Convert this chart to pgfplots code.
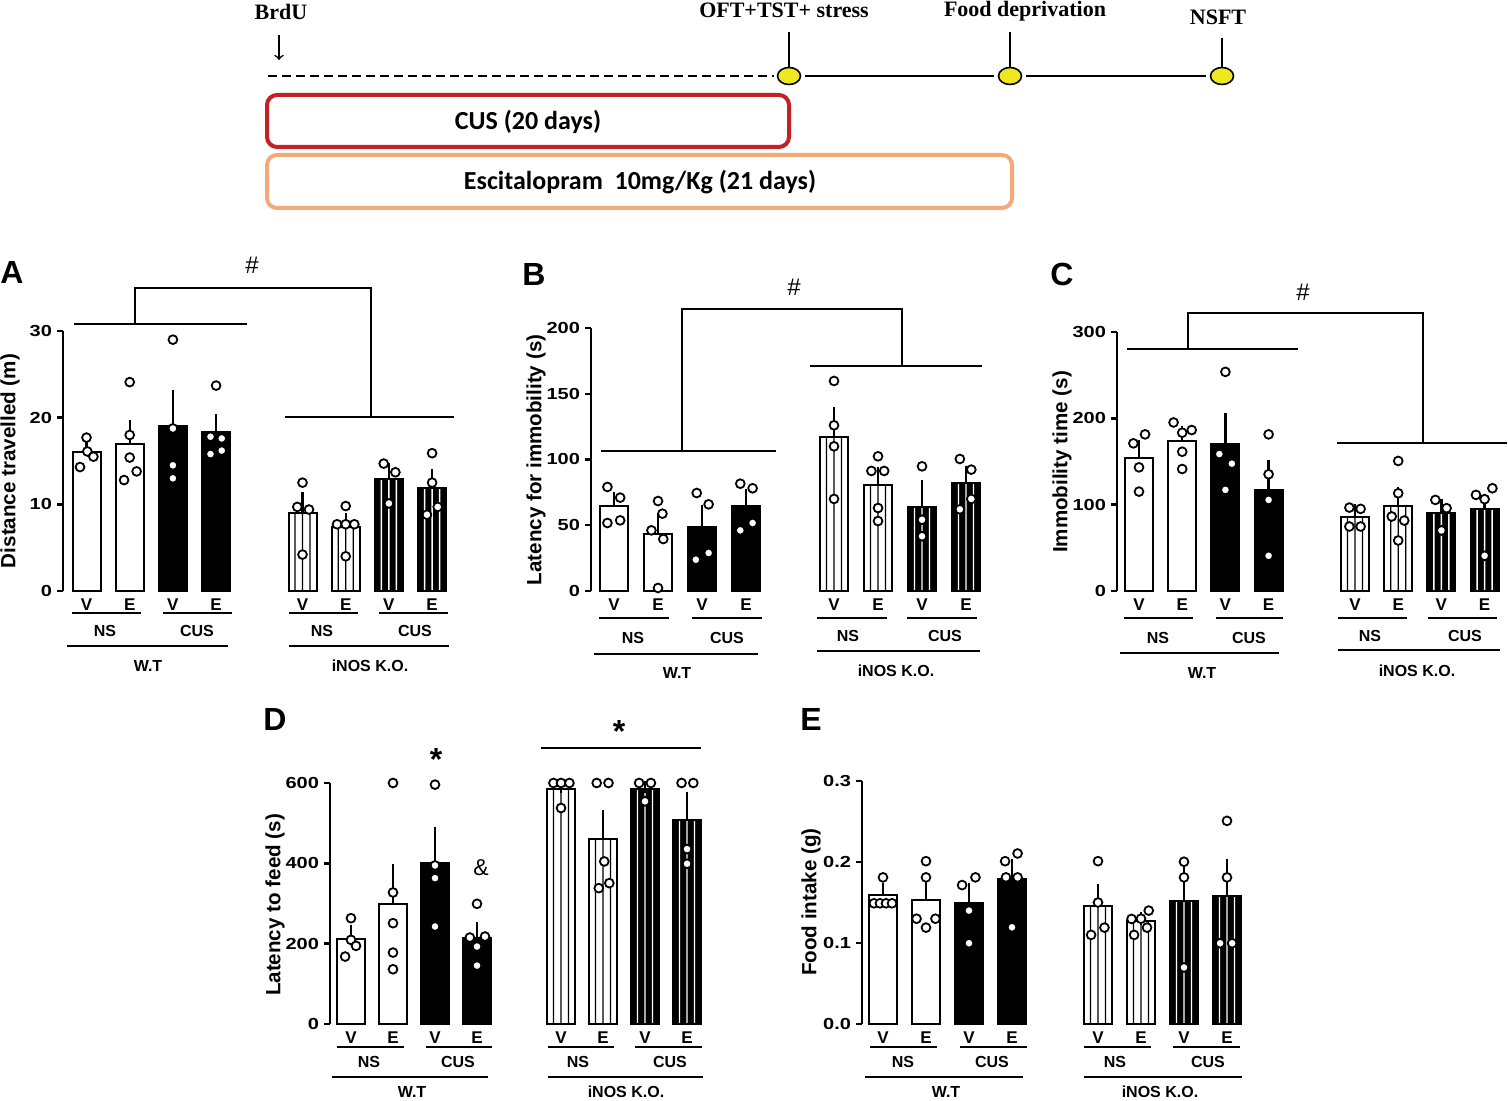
\documentclass[border=0pt]{standalone}
\usepackage{fontspec}
\setmainfont{Liberation Sans}
\newfontfamily\numfont{Liberation Sans}[FakeStretch=1.25]
\newfontfamily\timesfont{Liberation Serif}
\newfontfamily\calfont{Carlito}
\usepackage{pgfplots}
\pgfplotsset{compat=1.18}

\definecolor{cusred}{RGB}{196,32,38}
\definecolor{escorange}{RGB}{244,170,120}
\definecolor{tyellow}{RGB}{238,232,34}

\newcommand\fs[1]{\fontsize{#1}{#1}\selectfont}

\pgfplotsset{
  panel/.style={
    axis x line*=bottom, axis y line*=left,
    x axis line style={draw=none},
    y axis line style={line width=1.2pt},
    xtick style={draw=none},
    ytick style={line width=1.2pt, black},
    tick align=outside, major tick length=3pt,
    xtick={0,1,2,3,5,6,7,8},
    xticklabels={V,E,V,E,V,E,V,E},
    xticklabel style={font=\bfseries\fs{8.5}, yshift=2.5pt},
    yticklabel style={font=\numfont\bfseries\fs{8}, xshift=1pt},
    /pgf/number format/assume math mode=true,
    ymin=0, xmax=8.6, clip=false, anchor=south west,
  },
  wbar/.style={ybar, bar width=14pt, bar shift=0pt, fill=white, draw=black, line width=1pt},
  bbar/.style={ybar, bar width=14pt, bar shift=0pt, fill=black, draw=black, line width=1pt},
  obar/.style={ybar, bar width=14pt, bar shift=0pt, fill=none, draw=black, line width=1pt},
  stripe/.style={ybar, bar width=0.7pt, bar shift=#1, draw=none},
  sem/.style={only marks, mark=none, mark size=0pt, error bars/.cd, y dir=plus, y explicit, error mark=-,
    error bar style={line width=1.2pt, black},
    error mark options={line width=1.2pt, mark size=3.2pt, black}},
  pts/.style={only marks, mark=*, mark size=2.2pt,
    mark options={fill=white, draw=black, line width=0.9pt}},
}

% WT-NS, WT-CUS, KO-NS, KO-CUS bars
\newcommand\barset[4]{%
  \addplot[wbar] coordinates {#1};
  \addplot[bbar] coordinates {#2};
  \addplot[wbar] coordinates {#3};
  \addplot[bbar] coordinates {#4};
  \addplot[stripe=-3.75pt, fill=black] coordinates {#3};
  \addplot[stripe=0pt, fill=black] coordinates {#3};
  \addplot[stripe=3.75pt, fill=black] coordinates {#3};
  \addplot[stripe=-3.75pt, fill=white] coordinates {#4};
  \addplot[stripe=0pt, fill=white] coordinates {#4};
  \addplot[stripe=3.75pt, fill=white] coordinates {#4};
  \addplot[obar] coordinates {#3};
  \addplot[obar] coordinates {#4};
}

\tikzset{
  bl/.style={line width=1.2pt},
  grp/.style={font=\bfseries\fs{8}, inner sep=0pt},
  ylab/.style={font=\bfseries\fs{10.3}, inner sep=0pt, rotate=90},
  plet/.style={font=\bfseries\fs{16}, inner sep=0pt},
}

\begin{document}
\begin{tikzpicture}
\useasboundingbox (0,0) rectangle (754pt,550.5pt);

% overlay in pixel coordinates (x, -y)
\begin{axis}[hide axis, x=0.5pt, y=0.5pt, xmin=0, xmax=1508, ymin=-1101, ymax=0,
  at={(0pt,0pt)}, anchor=south west, clip=false]
% timeline
\node[font=\timesfont\bfseries\fs{11}, inner sep=0pt] at (281,-12) {BrdU};
\draw[->, line width=0.8pt] (279,-35) -- (279,-60);
\draw[line width=1pt, dash pattern=on 4.5pt off 2.5pt] (268,-76) -- (774,-76);
\draw[line width=1pt] (805,-76) -- (994,-76) (1026,-76) -- (1206,-76);
\draw[line width=1.2pt] (789,-32) -- (789,-68) (1010,-32) -- (1010,-68) (1222,-38) -- (1222,-68);
\node[font=\timesfont\bfseries\fs{11}, inner sep=0pt] at (784,-10) {OFT+TST+ stress};
\node[font=\timesfont\bfseries\fs{11}, inner sep=0pt] at (1025,-11) {Food deprivation};
\node[font=\timesfont\bfseries\fs{11}, inner sep=0pt] at (1218,-17) {NSFT};
\addplot[only marks, mark=*, mark size=4.25pt,
  mark options={fill=tyellow, draw=black, line width=0.8pt, xscale=1.35}]
  coordinates {(789,-76) (1010,-76) (1222,-76)};
\draw[cusred, line width=2pt, rounded corners=5pt] (267,-95) rectangle (789,-147);
\node[font=\calfont\bfseries\fs{13}, inner sep=0pt] at (528,-122) {CUS (20 days)};
\draw[escorange, line width=2pt, rounded corners=5pt] (267,-155) rectangle (1012,-208);
\node[font=\calfont\bfseries\fs{13}, inner sep=0pt] at (640,-182) {Escitalopram\ \ 10mg/Kg (21 days)};

% panel A
\node[plet] at (12,-273) {A};
\node[font=\fs{12}, inner sep=0pt] at (252,-265) {\#};
\draw[bl] (135,-324) -- (135,-288) -- (371,-288) -- (371,-417);
\draw[bl] (74,-324) -- (247,-324) (285,-417) -- (454,-417);
\draw[bl] (72,-613) -- (141,-613) (163,-613) -- (232,-613) (289,-613) -- (358,-613) (379,-613) -- (448,-613);
\node[grp] at (105,-631) {NS}; \node[grp] at (197,-631) {CUS};
\node[grp] at (322,-631) {NS}; \node[grp] at (415,-631) {CUS};
\draw[bl] (67,-646) -- (228,-646) (289,-646) -- (449,-646);
\node[grp] at (148,-666) {W.T}; \node[grp] at (370,-666) {iNOS K.O.};
\node[ylab] at (10,-461) {Distance travelled (m)};

% panel B
\node[plet] at (534,-275) {B};
\node[font=\fs{12}, inner sep=0pt] at (794,-287) {\#};
\draw[bl] (682,-451) -- (682,-309) -- (902,-309) -- (902,-366);
\draw[bl] (601,-451) -- (776,-451) (810,-366) -- (982,-366);
\draw[bl] (599,-618) -- (669,-618) (692,-618) -- (762,-618) (817,-618) -- (887,-618) (907,-618) -- (977,-618);
\node[grp] at (633,-638) {NS}; \node[grp] at (727,-638) {CUS};
\node[grp] at (848,-636) {NS}; \node[grp] at (945,-636) {CUS};
\draw[bl] (594,-654) -- (758,-654) (817,-651) -- (980,-651);
\node[grp] at (677,-673) {W.T}; \node[grp] at (896,-671) {iNOS K.O.};
\node[ylab] at (536,-460) {Latency for immobility (s)};

% panel C
\node[plet] at (1062,-275) {C};
\node[font=\fs{12}, inner sep=0pt] at (1303,-292) {\#};
\draw[bl] (1188,-349) -- (1188,-313) -- (1423,-313) -- (1423,-443);
\draw[bl] (1127,-349) -- (1298,-349) (1337,-443) -- (1507,-443);
\draw[bl] (1124,-618) -- (1193,-618) (1216,-618) -- (1283,-618) (1338,-618) -- (1407,-618) (1428,-618) -- (1497,-618);
\node[grp] at (1158,-638) {NS}; \node[grp] at (1249,-638) {CUS};
\node[grp] at (1370,-636) {NS}; \node[grp] at (1465,-636) {CUS};
\draw[bl] (1120,-653) -- (1279,-653) (1338,-650) -- (1500,-650);
\node[grp] at (1202,-673) {W.T}; \node[grp] at (1417,-671) {iNOS K.O.};
\node[ylab] at (1062,-462) {Immobility time (s)};

% panel D
\node[plet] at (275,-720) {D};
\node[font=\bfseries\fs{16}, inner sep=0pt, anchor=base] at (436,-771) {*};
\node[font=\bfseries\fs{16}, inner sep=0pt, anchor=base] at (619,-743) {*};
\draw[bl] (541,-748) -- (701,-748);
\node[font=\fs{11.5}, inner sep=0pt] at (481,-868) {\&};
\draw[bl] (337,-1047) -- (404,-1047) (426,-1047) -- (492,-1047) (548,-1047) -- (614,-1047) (635,-1047) -- (702,-1047);
\node[grp] at (369,-1062) {NS}; \node[grp] at (458,-1062) {CUS};
\node[grp] at (578,-1062) {NS}; \node[grp] at (670,-1062) {CUS};
\draw[bl] (332,-1077) -- (488,-1077) (548,-1077) -- (703,-1077);
\node[grp] at (412,-1092) {W.T}; \node[grp] at (626,-1092) {iNOS K.O.};
\node[ylab] at (275,-905) {Latency to feed (s)};

% panel E
\node[plet] at (811,-720) {E};
\draw[bl] (870,-1047) -- (937,-1047) (960,-1047) -- (1027,-1047) (1084,-1047) -- (1151,-1047) (1173,-1047) -- (1240,-1047);
\node[grp] at (903,-1062) {NS}; \node[grp] at (992,-1062) {CUS};
\node[grp] at (1115,-1062) {NS}; \node[grp] at (1208,-1062) {CUS};
\draw[bl] (865,-1077) -- (1023,-1077) (1084,-1077) -- (1242,-1077);
\node[grp] at (946,-1092) {W.T}; \node[grp] at (1160,-1092) {iNOS K.O.};
\node[ylab] at (811,-902) {Food intake (g)};
\end{axis}

% A: distance travelled
\begin{axis}[panel, at={(31.5pt,255pt)}, x=21.6pt, y=4.3333pt, xmin=-0.544, ymax=30, ytick={0,10,20,30}]
\barset{(0,16.0) (1,17.0)}{(2,19.0) (3,18.4)}{(5,9.0) (6,7.4)}{(7,12.95) (8,11.9)}
\addplot[sem] coordinates {(0,16.0) +- (0,0.6) (1,17.0) +- (0,2.0) (2,19.0) +- (0,3.45) (3,18.4) +- (0,1.3)
  (5,9.0) +- (0,1.7) (6,7.4) +- (0,0.85) (7,12.95) +- (0,1.1) (8,11.9) +- (0,1.4)};
\addplot[pts] coordinates {
  (0,17.7) (-0.15,14.3) (0.02,16.1) (0.16,15.5)
  (1,24.1) (1,18.0) (1,15.4) (0.87,12.8) (1.16,13.8)
  (2,29.0) (2,18.75) (2,14.5) (2,13.0)
  (3,23.7) (2.87,17.8) (3.13,17.6) (2.87,15.8) (3.13,16.2)
  (5,12.5) (4.88,9.7) (5.15,9.4) (5,4.2)
  (6,9.8) (5.8,7.7) (6,7.7) (6.2,7.7) (6,4.0)
  (6.88,14.7) (7.15,13.7) (7,10.1)
  (8,15.9) (8,12.5) (7.88,8.8) (8.13,9.7)};
\end{axis}

% B: latency for immobility
\begin{axis}[panel, at={(295.5pt,255pt)}, x=22pt, y=0.6575pt, xmin=-0.523, ymax=200, ytick={0,50,100,150,200}]
\barset{(0,64.6) (1,43.3)}{(2,48.7) (3,64.6)}{(5,117.1) (6,80.4)}{(7,64.1) (8,81.9)}
\addplot[sem] coordinates {(0,64.6) +- (0,6.1) (1,43.3) +- (0,10.9) (2,48.7) +- (0,12.1) (3,64.6) +- (0,8.2)
  (5,117.1) +- (0,17.8) (6,80.4) +- (0,8.8) (7,64.1) +- (0,15.7) (8,81.9) +- (0,8.6)};
\addplot[pts] coordinates {
  (-0.15,79.1) (0.14,71) (-0.15,51.7) (0.14,53.7)
  (1,68.4) (1.1,58.8) (0.85,46.1) (1.12,39.5) (1,2.3)
  (1.88,74.5) (2.15,65.9) (2.15,28.9) (1.86,23.8)
  (2.87,81.6) (3.15,78.1) (3.15,51.7) (2.87,46.1)
  (5,159.7) (5,126) (5,110) (5,70)
  (6,102.4) (5.85,91.3) (6.14,91.3) (6,63.1) (6,53.2)
  (7,94.8) (7,54.2) (7,41.6)
  (7.86,100.4) (8.12,92.3) (8.12,70) (7.86,62.1)};
\end{axis}

% C: immobility time
\begin{axis}[panel, at={(558.5pt,255pt)}, x=21.6pt, y=0.43167pt, xmin=-0.509, ymax=300, ytick={0,100,200,300}]
\barset{(0,154.4) (1,174)}{(2,170.6) (3,116.7)}{(5,85.9) (6,98.6)}{(7,90.9) (8,94.7)}
\addplot[sem] coordinates {(0,154.4) +- (0,13.5) (1,174) +- (0,9.3) (2,170.6) +- (0,28.1) (3,116.7) +- (0,28.1)
  (5,85.9) +- (0,6.9) (6,98.6) +- (0,14.6) (7,90.9) +- (0,8.8) (8,94.7) +- (0,10.8)};
\addplot[pts] coordinates {
  (-0.13,171) (0.14,181.4) (0,143.2) (0,115.1)
  (0.8,195.2) (1,183.3) (1.22,186.4) (1,161.3) (1,141.3)
  (2,253.8) (1.86,158.6) (2.15,147.5) (2,117.1)
  (3,181.4) (3,135.2) (3,105.5) (3,40.8)
  (4.87,96.6) (5.13,95.1) (4.87,74.7) (5.13,74.7)
  (6,150.6) (6,113.2) (5.85,86.3) (6.14,81.6) (6,58.5)
  (6.86,105.5) (7.12,95.9) (7,70.1)
  (7.8,111.3) (8.18,119) (8,106.3) (8,40.8)};
\end{axis}

% D: latency to feed
\begin{axis}[panel, at={(165pt,38.5pt)}, x=21pt, y=0.200833pt, xmin=-0.5, ymax=600, ytick={0,200,400,600}]
\barset{(0,211) (1,299.2)}{(2,400.6) (3,215.2)}{(5,585) (6,461.2)}{(7,585) (8,508.6)}
\addplot[sem] coordinates {(0,211) +- (0,19.2) (1,299.2) +- (0,82.2) (2,400.6) +- (0,73.1) (3,215.2) +- (0,23.3)
  (5,585) +- (0,5) (6,461.2) +- (0,55.8) (7,585) +- (0,5) (8,508.6) +- (0,52.4)};
\addplot[pts] coordinates {
  (0,263.4) (-0.14,167.9) (0,209.4) (0.12,194.5)
  (1,600) (1,327.4) (1,251) (1,177.8) (1,136.3)
  (2,595.9) (2,394.7) (2,363.2) (2,242.7)
  (3,299.2) (2.83,215.2) (3.19,217.7) (3,192.8) (3,145.4)
  (4.82,600) (5,600) (5.2,600) (5,537.7)
  (5.85,600) (6.13,600) (6.03,404.7) (5.9,338.2) (6.15,350.7)
  (6.86,600) (7.14,600) (7,554.3)
  (7.87,600) (8.15,600) (8,435.5) (8,398.9)};
\end{axis}

% E: food intake
\begin{axis}[panel, at={(431pt,38.5pt)}, x=21.5pt, y=405pt, xmin=-0.488, ymax=0.3, ytick={0,0.1,0.2,0.3},
  yticklabel style={/pgf/number format/.cd, fixed, fixed zerofill, precision=1}]
\barset{(0,0.1592) (1,0.1531)}{(2,0.149) (3,0.1789)}{(5,0.1457) (6,0.1272)}{(7,0.1514) (8,0.158)}
\addplot[sem] coordinates {(0,0.1592) +- (0,0.007) (1,0.1531) +- (0,0.0156) (2,0.149) +- (0,0.0172) (3,0.1789) +- (0,0.0164)
  (5,0.1457) +- (0,0.0197) (6,0.1272) +- (0,0.0033) (7,0.1514) +- (0,0.0398) (8,0.158) +- (0,0.0373)};
\addplot[pts] coordinates {
  (0,0.181) (-0.21,0.149) (-0.07,0.149) (0.07,0.149) (0.21,0.149)
  (1,0.201) (1,0.181) (0.78,0.13) (1.22,0.13) (1,0.119)
  (1.84,0.1715) (2.15,0.181) (2,0.14) (2,0.0997)
  (2.84,0.201) (3.13,0.2105) (2.86,0.181) (3.13,0.181) (3,0.1194)
  (5,0.201) (5,0.150) (5.15,0.119) (4.84,0.110)
  (5.78,0.1297) (6,0.13) (6.18,0.14) (6.14,0.119) (5.84,0.11)
  (7,0.2003) (7,0.181) (7,0.0698)
  (8,0.2508) (8,0.181) (7.84,0.0997) (8.12,0.0997)};
\end{axis}
\end{tikzpicture}
\end{document}
